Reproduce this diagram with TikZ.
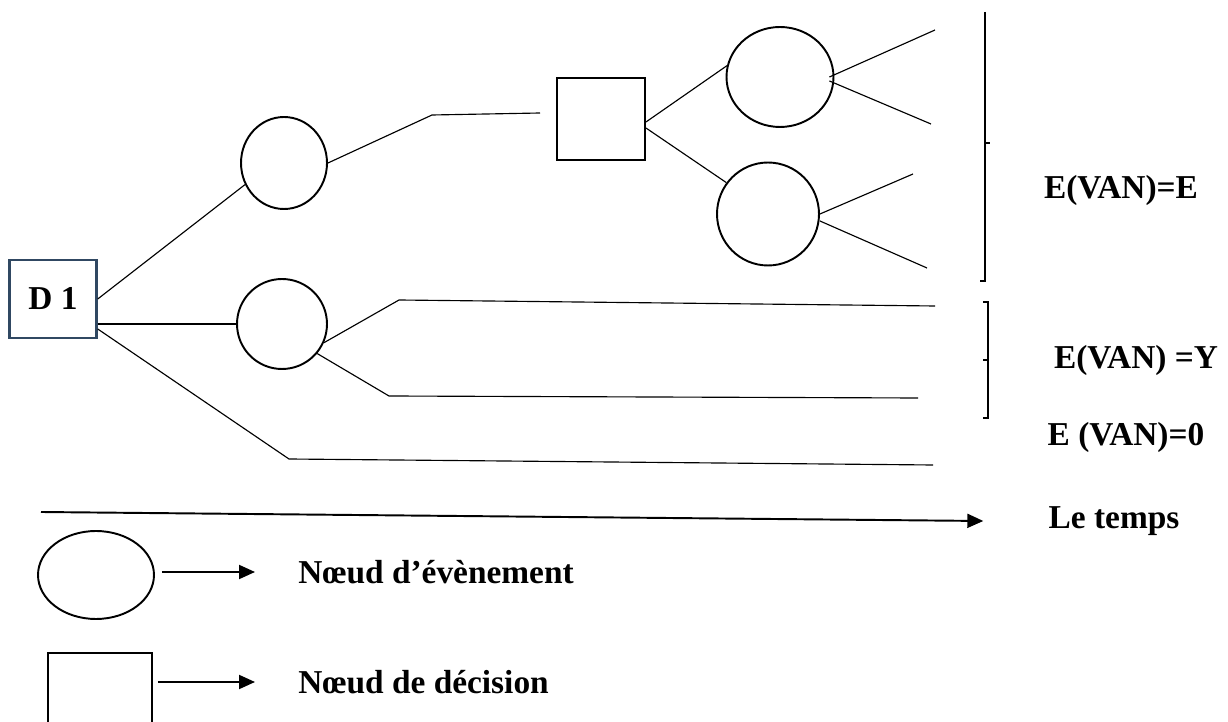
\documentclass[tikz,border=0pt]{standalone}
\usepackage{fontspec}
\setmainfont{Liberation Serif}
\usetikzlibrary{arrows.meta,shapes.geometric,calc}
\definecolor{dOneBlue}{RGB}{48,72,98}

\begin{document}
\begin{tikzpicture}[x=0.02cm,y=-0.02cm,font=\fontsize{19}{23}\selectfont\bfseries,
        >={Triangle[length=3.2mm,width=2.8mm]},
        ev/.style={draw,ellipse,line width=1.1pt,inner sep=0pt},
        dec/.style={draw,rectangle,line width=1.1pt,inner sep=0pt},
        ln/.style={line width=0.65pt},
        arr/.style={->,line width=1.1pt},
        lab/.style={inner sep=0pt}]
        \useasboundingbox (0,0) rectangle (1228,722);
        \node[dec,draw=dOneBlue,line width=1.4pt,minimum width=1.74cm,minimum height=1.56cm] (d1) at (53,299) {D 1};
        \node[ev,minimum width=1.72cm,minimum height=1.84cm] (e1) at (284,163) {};
        \node[ev,minimum width=1.8cm,minimum height=1.8cm] (e2) at (282,324) {};
        \node[dec,minimum width=1.76cm,minimum height=1.64cm] (d2) at (601,119) {};
        \node[ev,minimum width=2.14cm,minimum height=2.0cm] (e3) at (780,77) {};
        \node[ev,minimum width=2.04cm,minimum height=2.06cm] (e4) at (768,214) {};
        \coordinate (k1) at (432,115);  \coordinate (k1e) at (540,113);
        \coordinate (k2) at (399,300);  \coordinate (k2e) at (935,306);
        \coordinate (k3) at (389,396);  \coordinate (k3e) at (918,398);
        \coordinate (k4) at (289,459);  \coordinate (k4e) at (933,465);
        \coordinate (t1) at (935,30);   \coordinate (t2) at (931,124);
        \coordinate (t3) at (913,174);  \coordinate (t4) at (927,268);
        \draw[ln] (d1.east) -- (e1.209);
        \draw[ln] (e1.east) -- (k1) -- (k1e);
        \draw[ln] ([yshift=-0.06cm]d2.east) -- (e3.168);
        \draw[ln] ([yshift=-0.18cm]d2.east) -- (e4.143);
        \draw[ln] ([xshift=-1mm]e3.east) -- (t1);
        \draw[ln] ([xshift=-1mm,yshift=-0.08cm]e3.east) -- (t2);
        \draw[ln] (e4.east) -- (t3);
        \draw[ln] ([yshift=-0.14cm]e4.east) -- (t4);
        \draw[ln] (d1.east |- e2.west) -- (e2.west);
        \draw[ln] (e2.-24) -- (k2) -- (k2e);
        \draw[ln] (e2.-40) -- (k3) -- (k3e);
        \draw[ln] ([yshift=-0.6cm]d1.east) -- (k4) -- (k4e);
        \draw[ln] (985,12) -- (985,281) -- (980,281) (985,143) -- (990,143);
        \draw[ln] (983,302) -- (988,302) -- (988,418) -- (983,418) (988,360) -- (983,360);
        \node[lab] (vE) at (1121,190) {E(VAN)=E};
        \node[lab] (vY) at (1136,360) {E(VAN) =Y};
        \node[lab] (v0) at (1126,437) {E (VAN)=0};
        \node[lab] (tps) at (1114,521) {Le temps};
        \coordinate (t0) at (41,512);
        \draw[arr] (t0) -- ([xshift=-1.3cm]tps.west);
        \node[ev,minimum width=2.32cm,minimum height=1.76cm] (lev) at (96,575) {};
        \node[dec,minimum width=2.08cm,minimum height=2.08cm] (ldec) at (100,705) {};
        \node[lab,anchor=west] (nev) at (298,572) {Nœud d’évènement};
        \node[lab,anchor=west] (ndec) at (298,682) {Nœud de décision};
        \draw[arr] ([xshift=1.4mm]lev.east |- nev.west) -- ([xshift=-8.6mm]nev.west);
        \draw[arr] ([xshift=1mm]ldec.east |- ndec.west) -- ([xshift=-8.6mm]ndec.west);
\end{tikzpicture}
\end{document}
